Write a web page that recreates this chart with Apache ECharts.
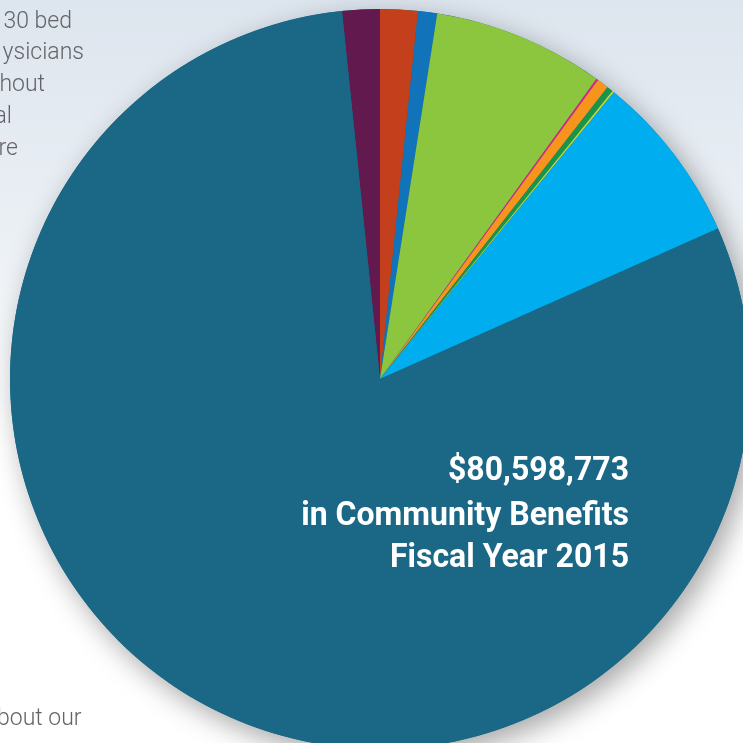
<!DOCTYPE html>
<html>
<head>
<meta charset="utf-8">
<script src="https://cdn.jsdelivr.net/npm/echarts@6/dist/echarts.min.js"></script>
<style>
html,body{margin:0;padding:0;}
#c{width:743px;height:743px;}
</style>
</head>
<body>
<div id="c"></div>
<script>
// Categories in clockwise order starting just left of 12 o'clock
const categories = ['Purple', 'Red', 'Blue', 'Green', 'Pink', 'Orange', 'Dark Green', 'Yellow Green', 'Light Blue', 'Teal'];
const values = [1321000, 1321000, 672000, 6023000, 67000, 414000, 213000, 67000, 6000000, 64501000];
const colors = ['#61194e', '#c4401c', '#1173ba', '#8cc63f', '#ec1a8c', '#f6941d', '#189548', '#c6da2e', '#00aeef', '#1a6886'];
const titleLines = ['$80,598,773', 'in Community Benefits', 'Fiscal Year 2015'];
const sideFragments = ['30 bed', 'ysicians', 'hout', 'al', 're'];
const bottomFragment = 'bout our';

const total = values.reduce((a, b) => a + b, 0);
const startAngle = 90 + values[0] / total * 360;

const chart = echarts.init(document.getElementById('c'));
const graphics = [];
const fragY = [22, 53, 85, 117, 149];
const fragRight = [72, 84, 45, 12, 18];
const sideFont = '300 23px Roboto, "Liberation Sans", sans-serif';
sideFragments.forEach((t, i) => {
  graphics.push({
    type: 'text', x: fragRight[i], y: fragY[i], z: 0,
    style: { text: t, fill: '#636467', font: sideFont, textAlign: 'right', textVerticalAlign: 'middle' }
  });
});
graphics.push({
  type: 'text', x: -3, y: 719, z: 0,
  style: { text: bottomFragment, fill: '#636467', font: sideFont, textAlign: 'left', textVerticalAlign: 'middle' }
});
const titleY = [472, 517, 559];
titleLines.forEach((t, i) => {
  graphics.push({
    type: 'text', x: 629, y: titleY[i], scaleX: 0.97, z: 100,
    style: {
      text: t, fill: '#ffffff', textAlign: 'right', textVerticalAlign: 'middle',
      font: 'bold 33px Roboto, sans-serif'
    }
  });
});

chart.setOption({
  backgroundColor: {
    type: 'linear', x: 0, y: 0, x2: 0, y2: 1,
    colorStops: [
      { offset: 0, color: '#dde5ee' },
      { offset: 0.3, color: '#eaeff4' },
      { offset: 0.6, color: '#ffffff' },
      { offset: 1, color: '#ffffff' }
    ]
  },
  animation: false,
  graphic: graphics,
  series: [
    {
      type: 'pie', silent: true, z: 1,
      center: [380, 379], radius: 370,
      label: { show: false }, labelLine: { show: false },
      data: [{ value: 1, itemStyle: { color: '#1a6886', shadowBlur: 28, shadowOffsetX: 7, shadowOffsetY: 9, shadowColor: 'rgba(0,0,0,0.35)' } }]
    },
    {
      type: 'pie', z: 2,
      center: [380, 379], radius: 370,
      startAngle: startAngle, clockwise: true,
      minAngle: 0, avoidLabelOverlap: false,
      label: { show: false }, labelLine: { show: false },
      itemStyle: { borderWidth: 0 },
      data: categories.map((c, i) => ({ name: c, value: values[i], itemStyle: { color: colors[i] } }))
    }
  ]
});
</script>
</body>
</html>
